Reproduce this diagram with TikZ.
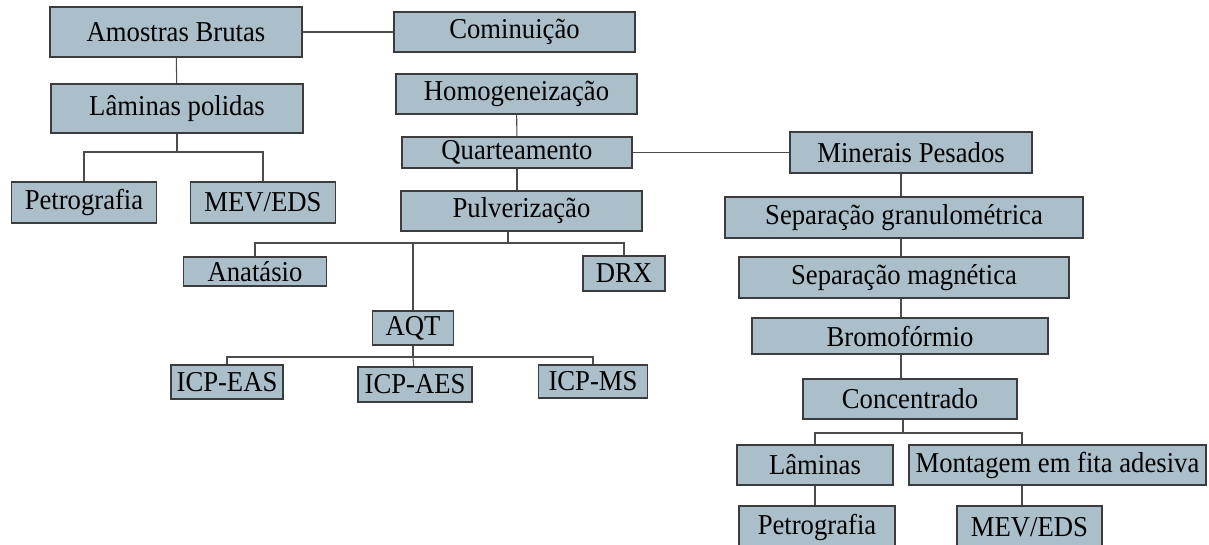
\documentclass[tikz,border=0pt]{standalone}
\usepackage{fontspec}
\setmainfont[FakeStretch=0.926]{Liberation Serif}
\usetikzlibrary{backgrounds}
\definecolor{boxfill}{RGB}{170,191,202}
\definecolor{boxline}{RGB}{60,60,60}
\tikzset{
  etapa/.style={draw=boxline, line width=1pt, fill=boxfill, inner sep=0pt,
    font=\fontsize{21.6}{26}\selectfont},
  larg/.style={minimum width=#1*0.75pt},
  alt/.style={minimum height=#1*0.75pt},
  liga/.style={draw=black!70, line width=0.8pt}
}
\begin{document}
\begin{tikzpicture}[x=0.75pt,y=-0.75pt]
      \useasboundingbox (0,0) rectangle (1209,545);

      % ramo das laminas
      \node[etapa,larg=252,alt=50] (brutas) at (176,32) {Amostras Brutas};
      \node[etapa,larg=241,alt=40] (cominuicao) at (514.5,32) {Cominuição};
      \node[etapa,larg=252,alt=49] (laminasp) at (177,108.5) {Lâminas polidas};
      \node[etapa,larg=145,alt=41] (petro1) at (84,202.5) {Petrografia};
      \node[etapa,larg=145,alt=41] (mev1) at (263,202.5) {MEV/EDS};

      % ramo central
      \node[etapa,larg=241,alt=40] (homog) at (516.5,94) {Homogeneização};
      \node[etapa,larg=230,alt=31] (quart) at (517,152.5) {Quarteamento};
      \node[etapa,larg=241,alt=40] (pulv) at (521.5,211) {Pulverização};
      \node[etapa,larg=143,alt=29] (anat) at (255,271.5) {Anatásio};
      \node[etapa,larg=82,alt=35] (drx) at (624,273.5) {DRX};
      \node[etapa,larg=81,alt=34] (aqt) at (413,328) {AQT};
      \node[etapa,larg=112,alt=34] (icpeas) at (227,382) {ICP-EAS};
      \node[etapa,larg=114,alt=35] (icpaes) at (415,384.5) {ICP-AES};
      \node[etapa,larg=109,alt=33] (icpms) at (593,381.5) {ICP-MS};

      % minerais pesados
      \node[etapa,larg=242,alt=41] (minerais) at (911,152.5) {Minerais Pesados};
      \node[etapa,larg=358,alt=41] (sepgran) at (904,217.5) {Separação granulométrica};
      \node[etapa,larg=330,alt=41] (sepmag) at (904,277.5) {Separação magnética};
      \node[etapa,larg=296,alt=36] (bromo) at (900,336) {Bromofórmio};
      \node[etapa,larg=214,alt=40] (conc) at (910,399) {Concentrado};
      \node[etapa,larg=156,alt=40] (laminas) at (815,465) {Lâminas};
      \node[etapa,larg=297,alt=40] (montagem) at (1057.5,465) {Montagem em fita adesiva};
      \node[etapa,larg=156,alt=42] (petro2) at (817,527) {Petrografia};
      \node[etapa,larg=145,alt=42] (mev2) at (1029.5,527) {MEV/EDS};

      \coordinate (b1) at (177,152);
      \coordinate (b2) at (508,243);
      \coordinate (b3) at (413,357);
      \coordinate (b4) at (903,433);
      \coordinate (eixo) at (901,0);
      \coordinate (desce) at (1022,0);

      \begin{scope}[on background layer]
        \draw[liga] (brutas) -- (cominuicao);
        \draw[liga] (brutas) -- (laminasp);
        \draw[liga] (laminasp) -- (b1);
        \draw[liga] (petro1) |- (b1) -| (mev1);
        \draw[liga] (homog) -- (quart);
        \draw[liga] (quart) -- (quart |- pulv);
        \draw[liga] (quart) -- (minerais);
        \draw[liga] (b2 |- pulv) -- (b2);
        \draw[liga] (anat) |- (b2) -| (drx);
        \draw[liga] (aqt) -- (aqt |- b2);
        \draw[liga] (aqt) -- (b3);
        \draw[liga] (icpeas) |- (b3) -| (icpms);
        \draw[liga] (b3) -- (icpaes);
        \draw[liga] (eixo |- minerais) -- (eixo |- conc);
        \draw[liga] (b4 |- conc) -- (b4);
        \draw[liga] (laminas) |- (b4) -| (desce |- montagem);
        \draw[liga] (desce |- montagem) -- (desce |- mev2);
        \draw[liga] (laminas) -- (laminas |- petro2);
      \end{scope}
    \end{tikzpicture}
\end{document}
